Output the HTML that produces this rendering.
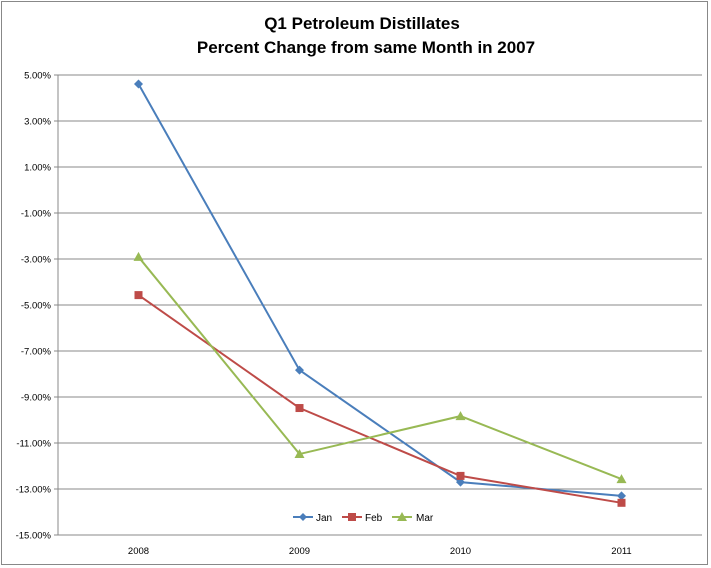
<!DOCTYPE html>
<html><head><meta charset="utf-8"><style>
body{margin:0;background:#fff;}
svg{display:block;font-family:"Liberation Sans",sans-serif;}
</style></head><body>
<svg id="chart" width="711" height="568">
<rect x="1.5" y="1.5" width="706" height="563" fill="#fff" stroke="#888"/>
<text x="362" y="29" text-anchor="middle" font-size="17" font-weight="bold">Q1 Petroleum Distillates</text>
<text x="366" y="53" text-anchor="middle" font-size="17" font-weight="bold">Percent Change  from same Month in 2007</text>
<g id="grid"></g><g id="series"></g>
<g>
<line x1="293" y1="517" x2="313" y2="517" stroke="#4a7ebb" stroke-width="2"/><path d="M303 513 L307 517 L303 521 L299 517Z" fill="#4a7ebb"/>
<text x="316" y="521" font-size="10">Jan</text>
<line x1="342" y1="517" x2="362" y2="517" stroke="#be4b48" stroke-width="2"/><rect x="348" y="513" width="8" height="8" fill="#be4b48"/>
<text x="365" y="521" font-size="10">Feb</text>
<line x1="392" y1="517" x2="412" y2="517" stroke="#98b954" stroke-width="2"/><path d="M402 512 L407 521 L397 521Z" fill="#98b954"/>
<text x="416" y="521" font-size="10">Mar</text>
</g>
</svg>
<script>
const categories=["2008","2009","2010","2011"];
const jan=[4.61,-7.83,-12.7,-13.3];
const feb=[-4.57,-9.48,-12.43,-13.6];
const mar=[-2.91,-11.48,-9.83,-12.57];
const ticks=[5,3,1,-1,-3,-5,-7,-9,-11,-13,-15];
const NS="http://www.w3.org/2000/svg";
const L=58,R=702,T=75,B=535;
const y=v=>T+(5-v)/20*(B-T);
const x=i=>L+(i+0.5)*(R-L)/categories.length;
function mk(t,a,p){const e=document.createElementNS(NS,t);for(const k in a)e.setAttribute(k,a[k]);p.appendChild(e);return e;}
const g=document.getElementById('grid');
ticks.forEach(v=>{
 const l=mk('line',{x1:L-4,x2:R,y1:y(v),y2:y(v),stroke:'#888','stroke-width':1},g);
 
 
 const t=mk('text',{x:L-7,y:y(v)+3.5,'text-anchor':'end','font-size':'9.5'},g);
 t.textContent=v.toFixed(2)+'%';
 
 
});
mk('line',{x1:L,x2:L,y1:T,y2:B,stroke:'#888'},g);
categories.forEach((c,i)=>{
 const t=mk('text',{x:x(i),y:B+19,'text-anchor':'middle','font-size':'9.5'},g);
 t.textContent=c;
 
 
});
const s=document.getElementById('series');
[[jan,'#4a7ebb','d','jan'],[feb,'#be4b48','s','feb'],[mar,'#98b954','t','mar']].forEach(([d,c,m,n])=>{
 const p=mk('polyline',{points:d.map((v,i)=>x(i)+','+y(v)).join(' '),fill:'none',stroke:c,'stroke-width':2},s);
 
 
 d.forEach((v,i)=>{
  const X=x(i),Y=y(v);let e;
  if(m=='d')e=mk('path',{d:`M${X} ${Y-4.5}L${X+4.5} ${Y}L${X} ${Y+4.5}L${X-4.5} ${Y}Z`,fill:c},s);
  else if(m=='s')e=mk('rect',{x:X-4,y:Y-4,width:8,height:8,fill:c},s);
  else e=mk('path',{d:`M${X} ${Y-5}L${X+5} ${Y+4}L${X-5} ${Y+4}Z`,fill:c},s);
  
  
 });
});
</script>
</body></html>
